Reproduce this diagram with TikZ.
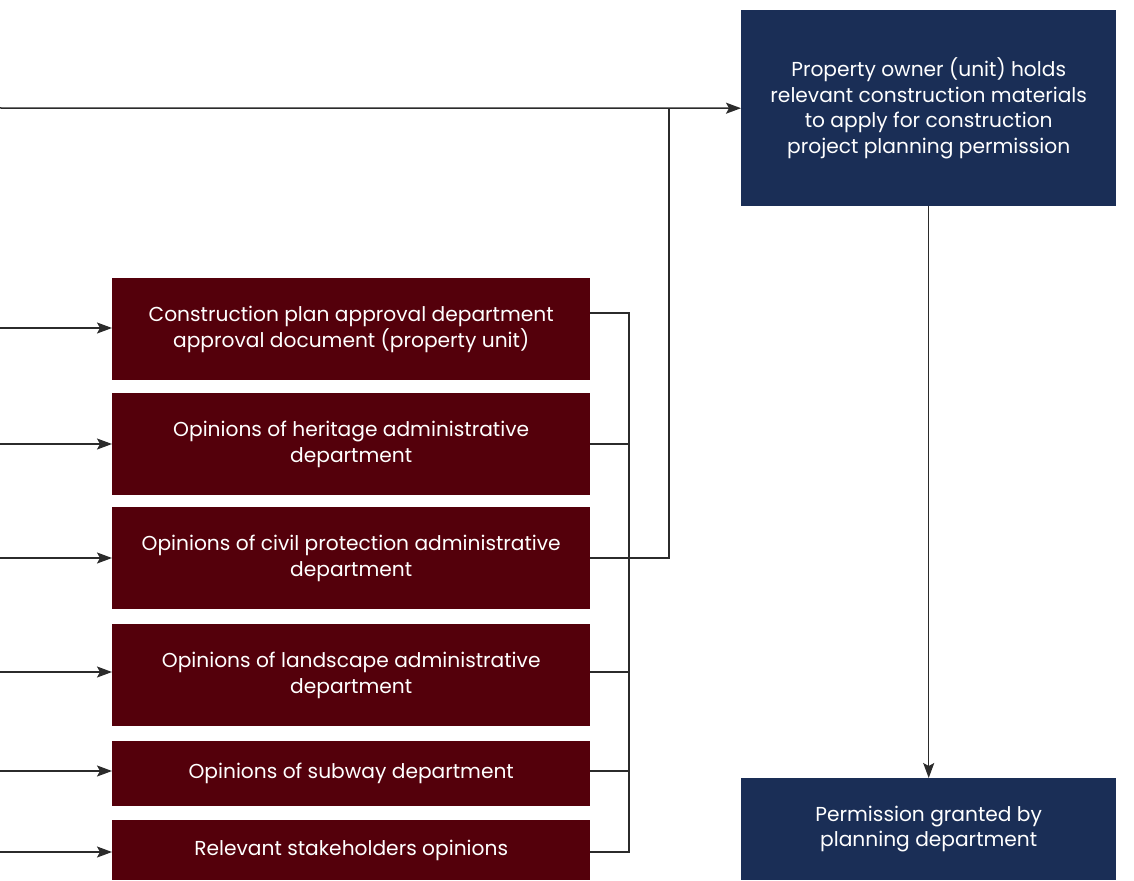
\documentclass[tikz,border=0pt]{standalone}
\usepackage{fontspec}
\setmainfont{Poppins}
\usetikzlibrary{arrows.meta}
\definecolor{navy}{HTML}{1A2E56}
\definecolor{maroon}{HTML}{54000B}
\definecolor{wire}{HTML}{2B2B2B}
\tikzset{
  bluebox/.style={fill=navy, text=white, draw=none, inner sep=0pt, anchor=north west,
    font=\fontsize{20.2}{25.5}\selectfont, align=center},
  redbox/.style={fill=maroon, text=white, draw=none, inner sep=0pt, anchor=north west,
    font=\fontsize{20.2}{25.5}\selectfont, align=center, minimum width=478pt},
  wireline/.style={draw=wire, line width=1.5pt},
  arr/.style={wireline, -{Stealth[length=15pt,width=11pt,inset=3pt]}}
}
\begin{document}
\begin{tikzpicture}[x=1pt,y=-1pt]
\useasboundingbox (0,0) rectangle (1134,880);
% blue boxes
\node[bluebox, minimum width=375pt, minimum height=196pt] (b1) at (741,10)
  {Property owner (unit) holds\\relevant construction materials\\to apply for construction\\project planning permission};
\node[bluebox, minimum width=375pt, minimum height=102pt] (b2) at (741,778)
  {Permission granted by\\planning department};
% red boxes
\node[redbox, minimum height=102pt] (r1) at (112,278)
  {Construction plan approval department\\approval document (property unit)};
\node[redbox, minimum height=102pt] (r2) at (112,393)
  {Opinions of heritage administrative\\department};
\node[redbox, minimum height=102pt] (r3) at (112,507)
  {Opinions of civil protection administrative\\department};
\node[redbox, minimum height=102pt] (r4) at (112,624)
  {Opinions of landscape administrative\\department};
\node[redbox, minimum height=65pt] (r5) at (112,741)
  {Opinions of subway department};
\node[redbox, minimum height=60pt] (r6) at (112,820)
  {Relevant stakeholders opinions};
% coordinates
\coordinate (s0) at (0,108);
\coordinate (l1) at (0,328);
\coordinate (l2) at (0,444);
\coordinate (l3) at (0,558);
\coordinate (l4) at (0,672);
\coordinate (l5) at (0,771);
\coordinate (l6) at (0,852);
\coordinate (bx) at (629,0);
\coordinate (jx) at (669,0);
\coordinate (r1o) at (590,313);
% left arrows
\draw[arr] (l1) -- (l1 -| r1.west);
\draw[arr] (l2) -- (l2 -| r2.west);
\draw[arr] (l3) -- (l3 -| r3.west);
\draw[arr] (l4) -- (l4 -| r4.west);
\draw[arr] (l5) -- (l5 -| r5.west);
\draw[arr] (l6) -- (l6 -| r6.west);
% bracket
\draw[wireline] (r1o) -- (r1o -| bx) -- (l6 -| bx) -- (l6 -| r6.east);
\draw[wireline] (l2 -| r2.east) -- (l2 -| bx);
\draw[wireline] (l3 -| r3.east) -- (l3 -| bx);
\draw[wireline] (l4 -| r4.east) -- (l4 -| bx);
\draw[wireline] (l5 -| r5.east) -- (l5 -| bx);
\draw[wireline] (l3 -| bx) -- (l3 -| jx) -- (s0 -| jx);
% top arrow
\draw[arr] (s0) -- (b1.west);
% vertical arrow
\draw[arr] (b1.south) -- (b2.north);
\end{tikzpicture}
\end{document}
